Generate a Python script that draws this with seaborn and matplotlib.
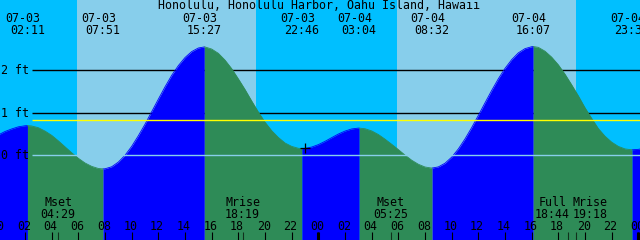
import numpy as np
import pandas as pd
import matplotlib
matplotlib.use("Agg")
import matplotlib.pyplot as plt
import seaborn as sns

# ---------------- data ----------------
title = "Honolulu, Honolulu Harbor, Oahu Island, Hawaii"

# water level (ft) read every half hour, starting 07-03 00:00
curve_step_h = 0.5
curve_ft = [0.48, 0.56, 0.62, 0.67, 0.695, 0.69, 0.65, 0.57, 0.47, 0.34,
            0.20, 0.06, -0.07, -0.18, -0.26, -0.31, -0.317, -0.27, -0.16, 0.00,
            0.21, 0.46, 0.73, 1.025, 1.32, 1.61, 1.88, 2.11, 2.30, 2.44,
            2.525, 2.55, 2.50, 2.40, 2.24, 2.04, 1.80, 1.55, 1.28, 1.02,
            0.78, 0.58, 0.42, 0.29, 0.21, 0.165, 0.163, 0.194, 0.251, 0.328,
            0.415, 0.50, 0.57, 0.62, 0.64, 0.625, 0.574, 0.49, 0.38, 0.26,
            0.135, 0.005, -0.115, -0.21, -0.275, -0.30, -0.273, -0.187, -0.044, 0.149,
            0.385, 0.651, 0.938, 1.234, 1.525, 1.80, 2.045, 2.25, 2.41, 2.51,
            2.555, 2.54, 2.45, 2.31, 2.13, 1.91, 1.66, 1.40, 1.12, 0.87,
            0.63, 0.45, 0.31, 0.21, 0.15, 0.13, 0.14, 0.17, 0.20]

event_dates = ["07-03", "07-03", "07-03", "07-03", "07-04", "07-04", "07-04", "07-04"]
event_times = ["02:11", "07:51", "15:27", "22:46", "03:04", "08:32", "16:07", "23:32"]
event_kind = ["H", "L", "H", "L", "H", "L", "H", "L"]
event_ft = [0.70, -0.32, 2.55, 0.16, 0.64, -0.30, 2.56, 0.13]

moon_names = ["Mset", "Mrise", "Mset", "Full", "Mrise"]
moon_dates = ["07-03", "07-03", "07-04", "07-04", "07-04"]
moon_times = ["04:29", "18:19", "05:25", "18:44", "19:18"]

sun_dates = ["07-03", "07-04"]
sunrise_times = ["05:54", "05:54"]
sunset_times = ["19:20", "19:20"]

now_date, now_time, now_ft = "07-03", "23:02", 0.165

grid_ft = [1, 2]
datum_ft = 0
msl_ft = 0.82
ylabel_ft = [2, 1, 0]
ylabel_text = ["2 ft", "1 ft", "0 ft"]
hour_ticks = list(range(0, 49, 2))
hour_labels = ["%02d" % (h % 24) for h in hour_ticks]
midnights = [0, 24, 48]

# ---------------- styles / layout ----------------
C_NIGHT = "#00BFFF"
C_DAY = "#87CEEB"
C_RISE = "#0000FF"
C_FALL = "#2E8B57"
C_MSL = "#FFFF00"
C_DATUM = "#87CEEB"
C_TEXT = "black"
FONT = "DejaVu Sans Mono"
FS = 8.4
W, H = 640, 240
PX_PER_H = 13.333
X0_PX = -1.67          # pixel of 07-03 00:00
FT0_PX = 155.3          # pixel row of 0 ft
PX_PER_FT = 42.5


def to_h(d, t):
    day = int(d[3:]) - 3
    hh, mm = t.split(":")
    return day * 24 + int(hh) + int(mm) / 60.0


def px_to_h(px):
    return (px - X0_PX) / PX_PER_H


def ypx(p):  # pixel row from top -> axes fraction
    return 1 - p / H


sns.set_style("white")
plt.rcParams["font.family"] = [FONT, "DejaVu Sans"]
plt.rcParams["text.color"] = C_TEXT

fig = plt.figure(figsize=(W / 100, H / 100), dpi=100)
ax = fig.add_axes([0, 0, 1, 1])
xmin, xmax = px_to_h(0), px_to_h(W)
ymin = (FT0_PX - H) / PX_PER_FT
ymax = FT0_PX / PX_PER_FT
fig.patch.set_facecolor(C_NIGHT)
ax.add_patch(plt.Rectangle((0, 0), 1, 1, transform=ax.transAxes,
                           color=C_NIGHT, zorder=-2))

# daylight
for d, r, s in zip(sun_dates, sunrise_times, sunset_times):
    ax.axvspan(to_h(d, r), to_h(d, s), color=C_DAY, lw=0, zorder=-1)

# grid lines behind water
line_start = px_to_h(32)
ax.hlines(grid_ft, line_start, xmax, color="black", lw=1.0, zorder=1)

# build curve table
ev_h = [to_h(d, t) for d, t in zip(event_dates, event_times)]
hours = np.arange(len(curve_ft)) * curve_step_h
bounds = [hours[0]] + ev_h + [hours[-1]]
ends_kind = event_kind + ["H"]   # kind of event that closes each segment
rows = []
for i in range(len(bounds) - 1):
    a, b = bounds[i], bounds[i + 1]
    phase = "rising" if ends_kind[i] == "H" else "falling"
    pts = [(h, v) for h, v in zip(hours, curve_ft) if a < h < b]
    pts.insert(0, (a, event_ft[i - 1] if i > 0 else curve_ft[0]))
    pts.append((b, event_ft[i] if i < len(ev_h) else curve_ft[-1]))
    for h, v in pts:
        rows.append({"hour": h, "ft": v, "phase": phase, "seg": i})
df = pd.DataFrame(rows)

palette = {"rising": C_RISE, "falling": C_FALL}
for seg, g in df.groupby("seg"):
    ax.fill_between(g["hour"], g["ft"], ymin - 1, color=palette[g["phase"].iloc[0]],
                    lw=0, zorder=2)
sns.lineplot(data=df, x="hour", y="ft", hue="phase", units="seg", estimator=None,
             palette=palette, lw=0.6, legend=False, ax=ax, zorder=2.1, sort=False)
ax.set_xlim(xmin, xmax)
ax.set_ylim(ymin, ymax)
ax.axis("off")

# datum and MSL lines over water
ax.hlines([datum_ft], line_start, xmax, color=C_DATUM, lw=1.0, zorder=3)
ax.hlines([msl_ft], line_start, xmax, color=C_MSL, lw=1.0, zorder=3)

# current time mark
ax.plot([to_h(now_date, now_time)], [now_ft], marker="+", color="black",
        ms=6.5, mew=0.9, zorder=4)

xt = ax.get_xaxis_transform()
tkw = dict(transform=xt, va="baseline", fontsize=FS, family=FONT,
           color=C_TEXT, zorder=5)

# y labels
for v, s in zip(ylabel_ft, ylabel_text):
    base = FT0_PX - v * PX_PER_FT + 4.1
    ax.text(px_to_h(1), ypx(base), s, ha="left", **tkw)

# title
ax.text(px_to_h(319), ypx(9.3), title, ha="center", **tkw)

# tide event labels
for h, d, t in zip(ev_h, event_dates, event_times):
    ax.text(h - 4.3 / PX_PER_H, ypx(21.7), d, ha="center", **tkw)
    ax.text(h, ypx(34.0), t, ha="center", **tkw)

# hour ticks and labels
tick_len = 8 / H
ax.vlines(hour_ticks, 0, tick_len, transform=xt, color="black", lw=0.8, zorder=5)
ax.vlines(midnights, 0, tick_len, transform=xt, color="black", lw=2.2, zorder=5)
for h, s in zip(hour_ticks, hour_labels):
    ax.text(h - 1.2 / PX_PER_H, ypx(230.0), s, ha="center", **tkw)

# moon events
moon_h = [to_h(d, t) for d, t in zip(moon_dates, moon_times)]
moon_shift_px = [0, 0, 0, -15.5, 14.2]
ax.vlines(moon_h, 0, tick_len, transform=xt, color="#10301c", lw=0.8, zorder=5)
for h, n, t, sh in zip(moon_h, moon_names, moon_times, moon_shift_px):
    hx = h + sh / PX_PER_H
    ax.text(hx, ypx(206.0), n, ha="center", **tkw)
    ax.text(hx, ypx(217.7), t, ha="center", **tkw)

fig.savefig("out.png", dpi=100, facecolor=C_NIGHT)
